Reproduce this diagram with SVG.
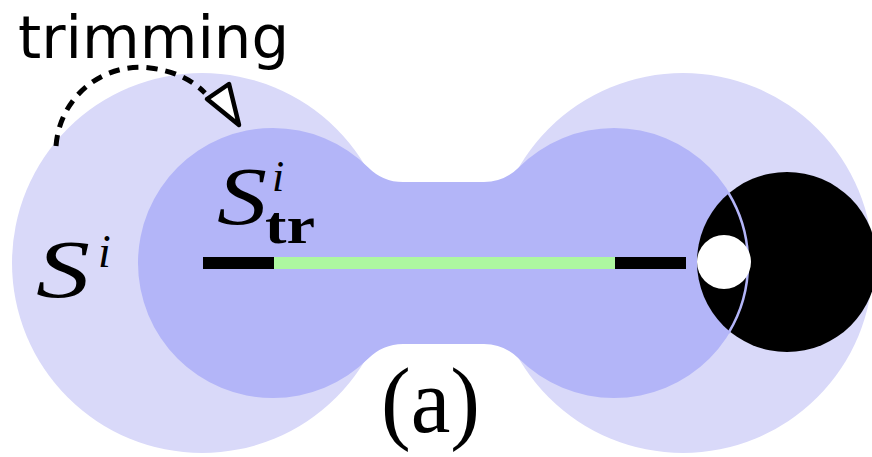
<svg xmlns="http://www.w3.org/2000/svg" width="872" height="457" viewBox="0 0 872 457">
<style>
.outer{fill:#d9d9f9}
.inner{fill:#b3b5f8}
.lbl{font-family:"Liberation Serif","DejaVu Serif",serif;fill:#000}
.sans{font-family:"DejaVu Sans","Liberation Sans",sans-serif;fill:#000}
</style>
<rect width="872" height="457" fill="#fff"/>
<g id="outer-region">
<circle class="outer" cx="202" cy="263" r="190"/>
<circle class="outer" cx="683" cy="263" r="190"/>
</g>
<g id="trimmed-region">
<path class="inner" d="M368.3,167.4 A49.5,49.5 0 0 0 403,182 L484,182 A49.5,49.5 0 0 0 518.7,167.4 A135,135 0 1 1 518.7,358.6 A49.5,49.5 0 0 0 484,344 L403,344 A49.5,49.5 0 0 0 368.3,358.6 A135,135 0 1 1 368.3,167.4 Z"/>
</g>
<g id="segment">
<rect x="203" y="257" width="71" height="12" fill="#000"/>
<rect x="274" y="257" width="341" height="12" fill="#adf7a0"/>
<rect x="615" y="257" width="71" height="12" fill="#000"/>
</g>
<g id="obstacle">
<circle cx="787" cy="262" r="90" fill="#000"/>
<path d="M728.5,193 A135,135 0 0 1 728.5,333" fill="none" stroke="#b3b5f8" stroke-width="2.5"/>
<circle cx="724" cy="262" r="27" fill="#fff"/>
</g>
<g id="connectors">
<path d="M56,146 C60,95 105,62 150,68 C175,71 192,80 205,93" fill="none" stroke="#000" stroke-width="5" stroke-dasharray="11,8"/>
<polygon points="207,99 229,84 239,125" fill="#fff" stroke="#000" stroke-width="4.5" stroke-linejoin="round"/>
</g>
<g id="labels">
<text class="sans" x="18" y="58" font-size="59" textLength="271" lengthAdjust="spacingAndGlyphs">trimming</text>
<text class="lbl" x="36" y="297" font-size="82" font-style="italic" textLength="54" lengthAdjust="spacingAndGlyphs">S</text>
<text class="lbl" x="98" y="267" font-size="46" font-style="italic">i</text>
<text class="lbl" x="217" y="224" font-size="82" font-style="italic" textLength="50" lengthAdjust="spacingAndGlyphs">S</text>
<text class="lbl" x="272" y="191" font-size="44" font-style="italic">i</text>
<text class="lbl" x="265" y="243" font-size="52" font-weight="bold" textLength="50" lengthAdjust="spacingAndGlyphs">tr</text>
<text class="lbl" x="381" y="432" font-size="94" textLength="99" lengthAdjust="spacingAndGlyphs">(a)</text>
</g>
</svg>
